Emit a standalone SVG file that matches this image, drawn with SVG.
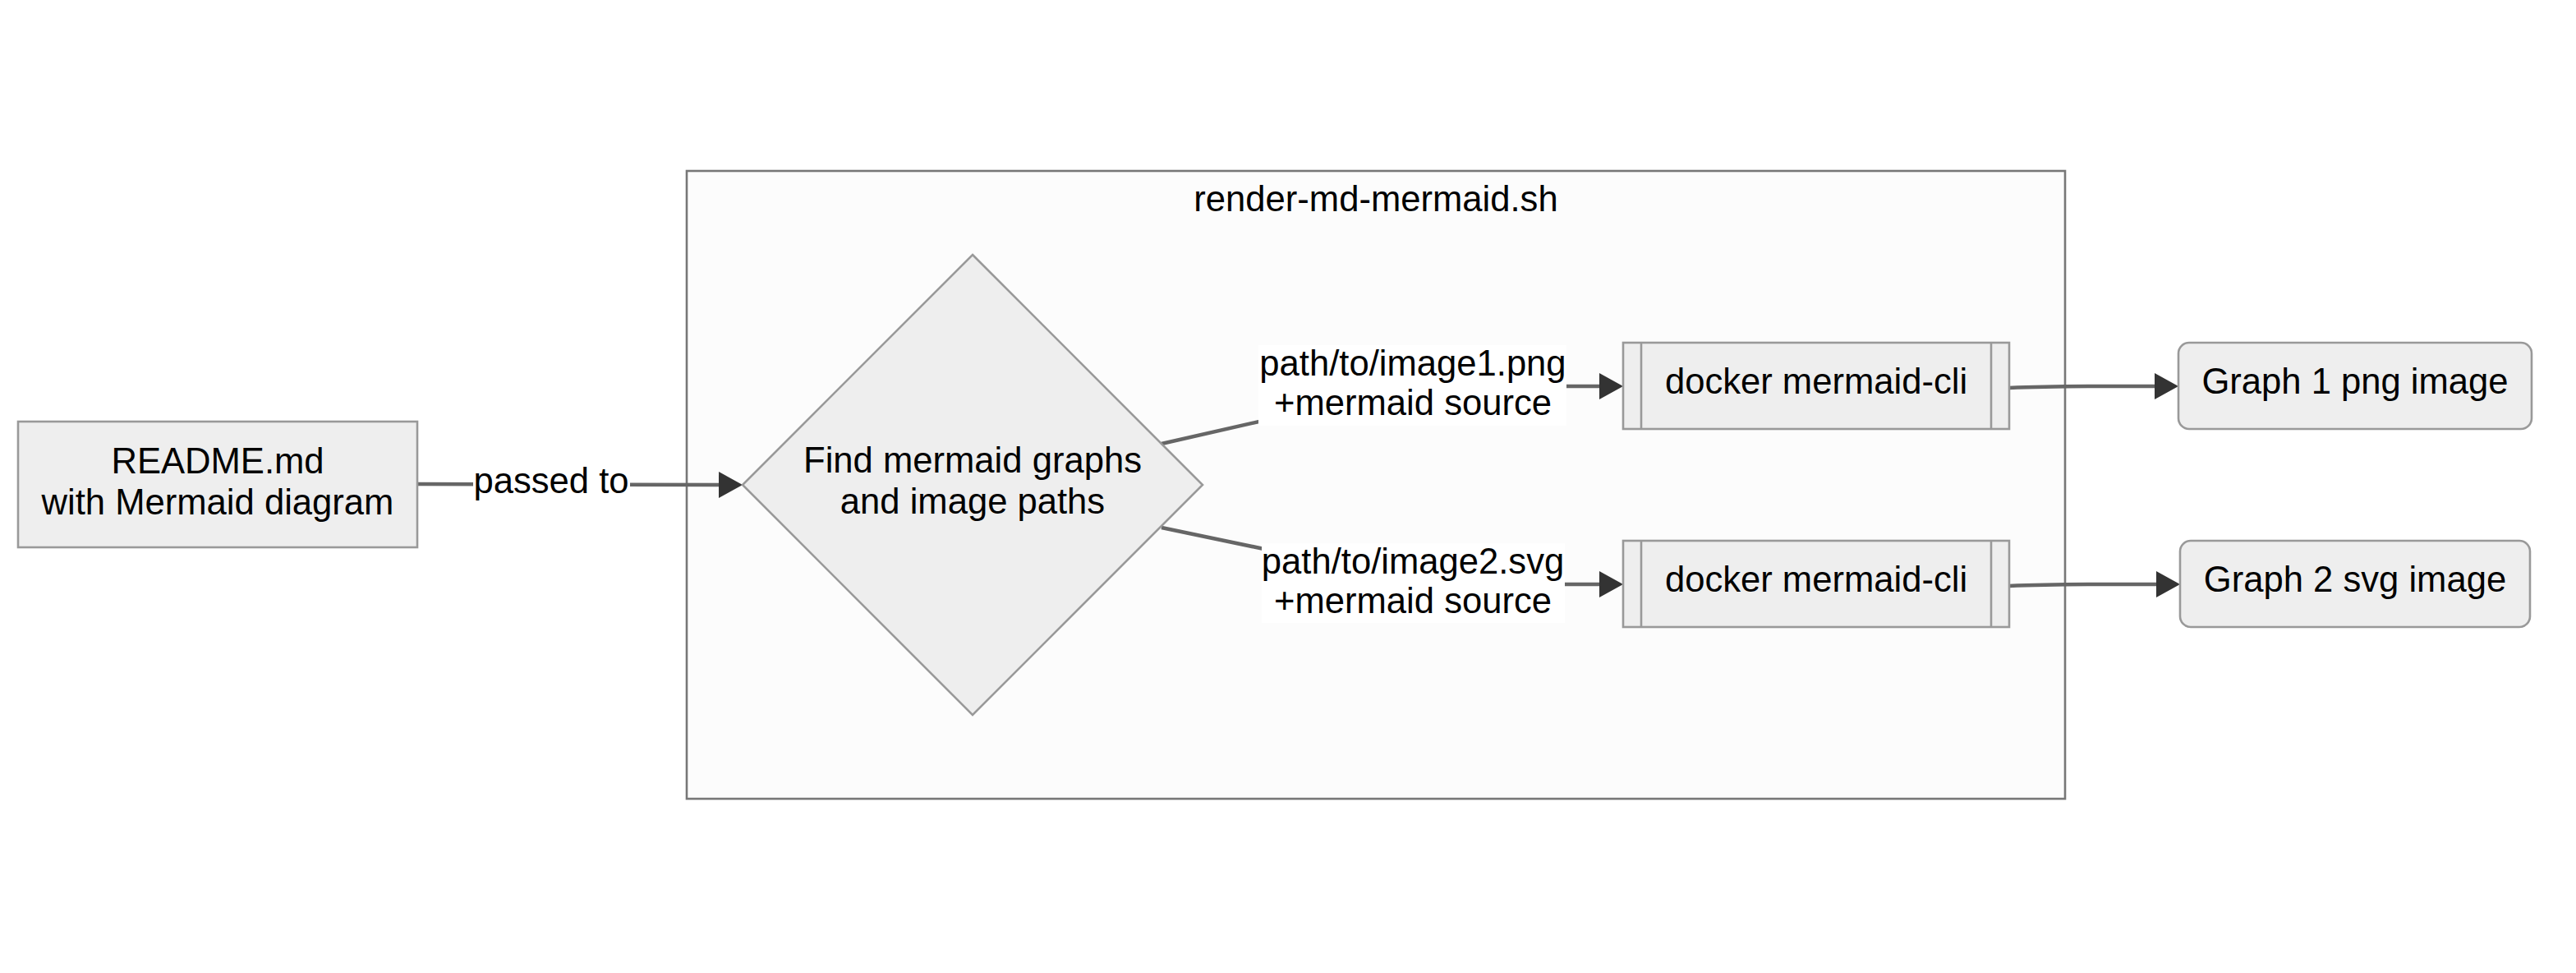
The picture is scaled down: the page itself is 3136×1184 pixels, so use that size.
<svg xmlns="http://www.w3.org/2000/svg" width="3136" height="1184" viewBox="0 0 3136 1184">
<style>
.node{fill:#eeeeee;stroke:#999999;stroke-width:2.6}
.cluster{fill:#fcfcfc;stroke:#777777;stroke-width:2.6}
.edge{fill:none;stroke:#666666;stroke-width:4.5}
.lbg{fill:#ffffff}
text{font-family:"Liberation Sans",Arial,sans-serif;font-size:43.6px;fill:#000000;text-anchor:middle}
</style>
<defs>
<marker id="arrow" markerUnits="userSpaceOnUse" markerWidth="30" markerHeight="32" refX="0" refY="16" orient="auto" viewBox="0 0 30 32">
<path d="M0,0 L29,16 L0,32 Z" fill="#333333"/>
</marker>
</defs>
<rect width="3136" height="1184" fill="#ffffff"/>
<g id="cluster-render">
<rect class="cluster" x="836" y="208" width="1678" height="764"/>
<text x="1675" y="257">render-md-mermaid.sh</text>
</g>
<g id="connectors">
<path class="edge" d="M508,589 L875,590" marker-end="url(#arrow)"/>
<path class="edge" d="M1414,540 L1546,510 C1620,494 1660,470 1720,470 L1947,470" marker-end="url(#arrow)"/>
<path class="edge" d="M1414,642 L1534,667 C1620,684 1660,711 1720,711 L1947,711" marker-end="url(#arrow)"/>
<path class="edge" d="M2446,472 C2490,470 2520,470 2560,470 L2623,470" marker-end="url(#arrow)"/>
<path class="edge" d="M2446,713 C2490,711 2520,711 2560,711 L2625,711" marker-end="url(#arrow)"/>
<rect class="lbg" x="576" y="564" width="191" height="50"/>
<text x="671" y="600">passed to</text>
<rect class="lbg" x="1532" y="420" width="375" height="98"/>
<text x="1720" y="457">path/to/image1.png</text>
<text x="1720" y="505">+mermaid source</text>
<rect class="lbg" x="1536" y="661" width="369" height="97"/>
<text x="1720" y="698">path/to/image2.svg</text>
<text x="1720" y="746">+mermaid source</text>
</g>
<g id="node-readme">
<rect class="node" x="22" y="513" width="486" height="153"/>
<text x="265" y="576">README.md</text>
<text x="265" y="626">with Mermaid diagram</text>
</g>
<g id="node-find">
<polygon class="node" points="1184,310 1464,590 1184,870 904,590"/>
<text x="1184" y="575">Find mermaid graphs</text>
<text x="1184" y="625">and image paths</text>
</g>
<g id="node-docker1">
<rect class="node" x="1976" y="417" width="470" height="105"/>
<line x1="1998" y1="417" x2="1998" y2="522" stroke="#999999" stroke-width="2.6"/>
<line x1="2424" y1="417" x2="2424" y2="522" stroke="#999999" stroke-width="2.6"/>
<text x="2211" y="479">docker mermaid-cli</text>
</g>
<g id="node-docker2">
<rect class="node" x="1976" y="658" width="470" height="105"/>
<line x1="1998" y1="658" x2="1998" y2="763" stroke="#999999" stroke-width="2.6"/>
<line x1="2424" y1="658" x2="2424" y2="763" stroke="#999999" stroke-width="2.6"/>
<text x="2211" y="720">docker mermaid-cli</text>
</g>
<g id="node-graph1">
<rect class="node" x="2652" y="417" width="430" height="105" rx="13" ry="13"/>
<text x="2867" y="479">Graph 1 png image</text>
</g>
<g id="node-graph2">
<rect class="node" x="2654" y="658" width="426" height="105" rx="13" ry="13"/>
<text x="2867" y="720">Graph 2 svg image</text>
</g>
</svg>
